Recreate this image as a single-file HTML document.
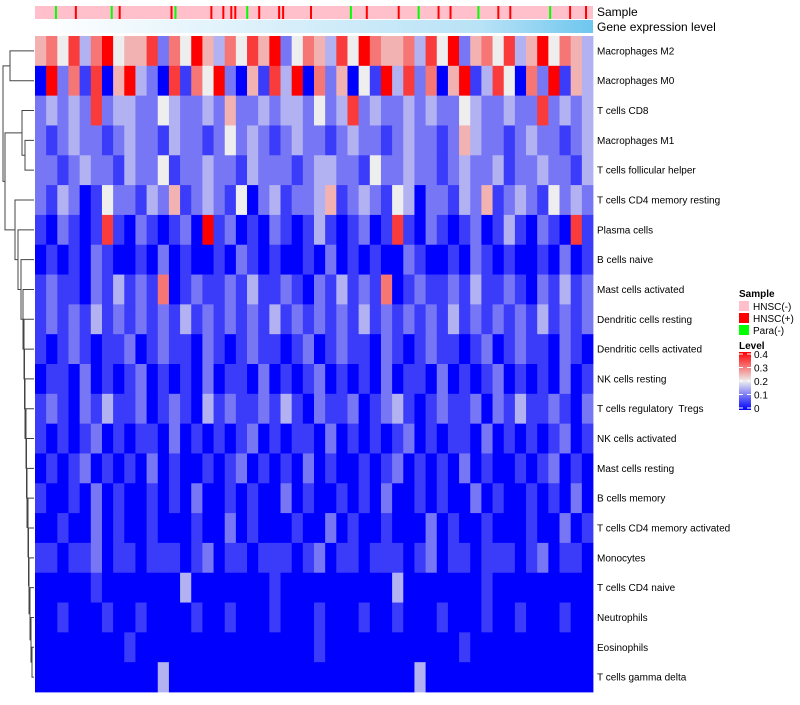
<!DOCTYPE html>
<html><head><meta charset="utf-8"><style>
body{margin:0;background:#fff;width:800px;height:700px;overflow:hidden;font-family:"Liberation Sans",sans-serif}
svg text{font-family:"Liberation Sans",sans-serif;white-space:pre}
</style></head><body>
<svg id="c" width="800" height="700"></svg>
<script>
const rowLabels=["Macrophages M2","Macrophages M0","T cells CD8","Macrophages M1","T cells follicular helper","T cells CD4 memory resting","Plasma cells","B cells naive","Mast cells activated","Dendritic cells resting","Dendritic cells activated","NK cells resting","T cells regulatory  Tregs","NK cells activated","Mast cells resting","B cells memory","T cells CD4 memory activated","Monocytes","T cells CD4 naive","Neutrophils","Eosinophils","T cells gamma delta"];
const rowCodes=[
"56473684557264853647582465374865563748256473584653",
"08261705832071648205173806250418372605813740628153",
"23232723322432232522323324237232232322432232272323",
"21232212322132212423212322123221232212532212322123",
"22123221322412232213222123322142232212322312232213",
"21320142213251232140231223512321430221325123214232",
"10210171021012081201021013101201710210120131021071",
"01010210010201001021010010201010021001021010010201",
"12110213121601211213112102131216012112131121021312",
"12121312121213121212131212121312121213121212131212",
"10121011201211021012110120121102101211012012110210",
"01102010120101020110201012010102011020101201010201",
"12102131120121031211213102112012310121120213112102",
"10101201011020101012010110201010120101102010101201",
"01012010102010010120101020100101201010201001012010",
"10010201001010200101002010010102001010020100101020",
"00100201001000100201000100201001000201001000100201",
"11011201101110120110111012011011101201101110120110",
"00000100000003000000010000000000300000001000000000",
"00100010010000100100010001000100100010001001000100",
"00000000100000000000000001000000000000100000000000",
"00000000000300000000000000000000003000000000000000"];
const sampleCodes="00000200001000000002010000000000001200000000100101100200100001100000010000000002000100000001000020000100100000020000100100000000020000100010";
const merges=[[20,21,32],[19,22,31],[18,23,30],[17,24,29],[16,25,28.5],[15,26,28],[14,27,27],[13,28,26.5],[12,29,26],[11,30,25],[10,31,24.5],[9,32,24],[8,33,23],[7,34,21],[6,35,18],[5,36,15],[3,4,25],[2,38,22],[39,37,5],[0,1,10],[41,40,3]];
const X0=35,X1=593,Y0=36,Y1=692,NS="http://www.w3.org/2000/svg";
const svg=document.getElementById('c');
const rh=(Y1-Y0)/rowLabels.length;
function mk(t,a,p){const e=document.createElementNS(NS,t);for(const k in a)e.setAttribute(k,a[k]);(p||svg).appendChild(e);return e;}
function col(v){v=Math.max(0,Math.min(0.4,v));let r,g,b;
 if(v<=0.2){const t=v/0.2;r=238*t;g=238*t;b=255-17*t;}else{const t=(v-0.2)/0.2;r=238+17*t;g=238*(1-t);b=238*(1-t);}
 return `rgb(${r|0},${g|0},${b|0})`;}
const yC=i=>Y0+rh*(i+0.5);
const sc=["#FFC0CB","#FF0000","#00FF00"];
const sw=(X1-X0)/sampleCodes.length;
mk('rect',{x:X0,y:6,width:X1-X0,height:13,fill:sc[0]});
for(let j=0;j<sampleCodes.length;j++){const c=+sampleCodes[j];if(!c)continue;
 const r=mk('rect',{x:X0+j*sw,y:6,width:Math.max(1.5,sw*0.5),height:13,fill:sc[c]});
 
 }
const defs=mk('defs',{});const lg=mk('linearGradient',{id:'ge',x1:0,x2:1,y1:0,y2:0},defs);
mk('stop',{offset:0,'stop-color':'#ffffff'},lg);mk('stop',{offset:0.8,'stop-color':'#b8e2f6'},lg);mk('stop',{offset:1,'stop-color':'#6ec6ee'},lg);
const gb=mk('rect',{x:X0,y:20,width:X1-X0,height:13,fill:'url(#ge)'});


let t=mk('text',{x:597,y:16,'font-size':12});t.textContent='Sample';


t=mk('text',{x:597,y:31,'font-size':12});t.textContent='Gene expression level';


rowLabels.forEach((lab,i)=>{
 const s=rowCodes[i],w=(X1-X0)/s.length,y=Y0+rh*i;
 for(let j=0;j<s.length;j++){
  const r=mk('rect',{x:X0+j*w,y:y,width:w+0.4,height:rh+0.4,fill:col(+s[j]*0.05)});
  
  }
 const tx=mk('text',{x:597,y:yC(i)+3.5,'font-size':10,'xml:space':'preserve'});tx.textContent=lab;
 
 
});
const nx={},ny={};for(let i=0;i<rowLabels.length;i++){nx[i]=34;ny[i]=yC(i);}
merges.forEach((m,k)=>{const id=rowLabels.length+k,[a,b,h]=m;
 const p=mk('path',{d:`M${nx[a]},${ny[a]}H${h}V${ny[b]}H${nx[b]}`,fill:'none',stroke:'#444','stroke-width':1});
 
 
 nx[id]=h;ny[id]=(ny[a]+ny[b])/2;});
t=mk('text',{x:739,y:297,'font-size':10,'font-weight':'bold'});t.textContent='Sample';


["HNSC(-)","HNSC(+)","Para(-)"].forEach((l,i)=>{
 const r=mk('rect',{x:739,y:301+i*12,width:10,height:10,fill:sc[i]});
 
 
 const tx=mk('text',{x:753,y:310+i*12,'font-size':10});tx.textContent=l;
 
 });
t=mk('text',{x:739,y:349,'font-size':10,'font-weight':'bold'});t.textContent='Level';


const lg2=mk('linearGradient',{id:'lv',x1:0,x2:0,y1:1,y2:0},defs);
for(let k=0;k<=8;k++)mk('stop',{offset:k/8,'stop-color':col(k*0.05)},lg2);
const cb=mk('rect',{x:739,y:352,width:12,height:58,fill:'url(#lv)'});


["0","0.1","0.2","0.3","0.4"].forEach((l,i)=>{const y=408-i*13.5;
 mk('line',{x1:739,x2:743,y1:y,y2:y,stroke:'#fff'});mk('line',{x1:747,x2:751,y1:y,y2:y,stroke:'#fff'});
 const tx=mk('text',{x:754,y:y+4,'font-size':10});tx.textContent=l;
 
 });
</script>
</body></html>
